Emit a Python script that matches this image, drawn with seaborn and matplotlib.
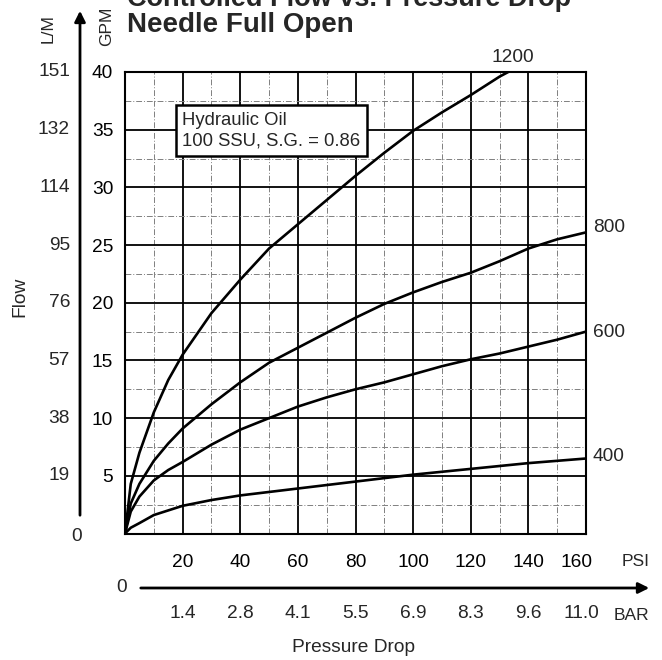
import numpy as np
import pandas as pd
import matplotlib
matplotlib.use("Agg")
import matplotlib.pyplot as plt
import matplotlib.transforms as mtransforms
import seaborn as sns

################################################
#                 Data
################################################
psi = [0, 2, 5, 10, 15, 20, 30, 40, 50, 60, 70, 80, 90, 100, 110, 120, 130, 140, 150, 160]
psi_1200 = [0, 2, 5, 10, 15, 20, 30, 40, 50, 60, 70, 80, 90, 100, 110, 120, 130, 133]

gpm_1200 = [0, 4.3, 7.0, 10.5, 13.3, 15.5, 19.1, 22.0, 24.7, 26.8, 28.9, 31.0, 33.0, 34.9, 36.5, 38.0, 39.6, 40.0]
gpm_800 = [0, 2.6, 4.3, 6.3, 7.8, 9.1, 11.2, 13.1, 14.8, 16.1, 17.4, 18.7, 19.9, 20.9, 21.8, 22.6, 23.6, 24.7, 25.5, 26.1]
gpm_600 = [0, 1.9, 3.2, 4.6, 5.5, 6.2, 7.7, 9.0, 10.0, 11.0, 11.8, 12.5, 13.1, 13.8, 14.5, 15.1, 15.6, 16.2, 16.8, 17.5]
gpm_400 = [0, 0.5, 0.9, 1.6, 2.0, 2.4, 2.9, 3.3, 3.6, 3.9, 4.2, 4.5, 4.8, 5.1, 5.35, 5.6, 5.85, 6.1, 6.3, 6.5]

psi_ticks = [0, 20, 40, 60, 80, 100, 120, 140, 160]
psi_labels = ["", "20", "40", "60", "80", "100", "120", "140", "160"]
bar_labels = ["1.4", "2.8", "4.1", "5.5", "6.9", "8.3", "9.6", "11.0"]
gpm_ticks = [0, 5, 10, 15, 20, 25, 30, 35, 40]
gpm_labels = ["", "5", "10", "15", "20", "25", "30", "35", "40"]
lm_labels = ["0", "19", "38", "57", "76", "95", "114", "132", "151"]

# curve names at the right end of each curve
curve_names = ["800", "600", "400"]
curve_label_y = [26.5, 17.4, 6.7]

df = pd.concat([
    pd.DataFrame({"psi": psi_1200, "gpm": gpm_1200, "ssu": "1200"}),
    pd.DataFrame({"psi": psi, "gpm": gpm_800, "ssu": "800"}),
    pd.DataFrame({"psi": psi, "gpm": gpm_600, "ssu": "600"}),
    pd.DataFrame({"psi": psi, "gpm": gpm_400, "ssu": "400"}),
])

################################################
#                 Figure
################################################
sns.set_style("white")
plt.rcParams["font.family"] = ["Liberation Sans", "DejaVu Sans"]
FS = 13.8

W, H = 662, 660
fig = plt.figure(figsize=(W / 100, H / 100), dpi=100)
x0, x1, ytop, ybot = 125, 586, 72, 533.5
ax = fig.add_axes([x0 / W, 1 - ybot / H, (x1 - x0) / W, (ybot - ytop) / H])

sns.lineplot(data=df, x="psi", y="gpm", units="ssu", estimator=None,
             color="black", lw=1.9, ax=ax, sort=False)

ax.set_xlim(0, 160)
ax.set_ylim(0, 40)
ax.set_xticks(psi_ticks)
ax.set_xticklabels(psi_labels, fontsize=FS)
ax.set_yticks(gpm_ticks)
ax.set_yticklabels(gpm_labels, fontsize=FS)
ax.set_xticks(np.arange(10, 160, 20), minor=True)
ax.set_yticks(np.arange(2.5, 40, 5), minor=True)
ax.tick_params(which="minor", length=0)
ax.tick_params(axis="y", which="major", length=7, width=1.2, pad=1.5, colors="black")
ax.tick_params(axis="x", which="major", length=8, width=1.2, pad=7, colors="black")
ax.grid(which="major", color="black", lw=1.3)
ax.grid(which="minor", color="0.5", lw=0.7, ls=(0, (6, 2, 1, 2)))
ax.set_axisbelow(True)
for s in ax.spines.values():
    s.set_visible(True)
    s.set_color("black")
    s.set_linewidth(1.5)
ax.set_xlabel("")
ax.set_ylabel("")

# the last PSI label sits a little left of its tick in the original
last = ax.get_xticklabels()[-1]
last.set_transform(last.get_transform() +
                   mtransforms.ScaledTranslation(-9 / 100, 0, fig.dpi_scale_trans))

# oil spec box
ax.text(19.8, 34.9, "Hydraulic Oil\n100 SSU, S.G. = 0.86", ha="left", va="center",
        fontsize=13.3, linespacing=1.3,
        bbox=dict(boxstyle="square,pad=0.35", fc="white", ec="black", lw=1.8))

# curve labels
ax.text(134.5, 40.5, "1200", ha="center", va="bottom", fontsize=FS, clip_on=False)
for name, yv in zip(curve_names, curve_label_y):
    ax.text(162.3, yv, name, ha="left", va="center", fontsize=FS, clip_on=False)

# title (top line cut off by the page edge)
fig.text(127 / W, 1 - 6 / H, "Controlled Flow vs. Pressure Drop", fontsize=19.5,
         weight="bold", va="baseline", ha="left")
fig.text(127 / W, 1 - 32 / H, "Needle Full Open", fontsize=20,
         weight="bold", va="baseline", ha="left")

# left side: L/M scale with arrow, GPM and Flow labels
ty = mtransforms.blended_transform_factory(fig.transFigure, ax.transData)
for v, lab in zip(gpm_ticks[1:], lm_labels[1:]):
    fig.text(70 / W, v, lab, ha="right", va="center", fontsize=FS, transform=ty)
fig.text(77 / W, -0.3, lm_labels[0], ha="center", va="center", fontsize=FS, transform=ty)
ax.annotate("", xy=(80, H - 8), xytext=(80, H - 518), xycoords="figure pixels",
            textcoords="figure pixels",
            arrowprops=dict(arrowstyle="-|>", lw=2, color="black", mutation_scale=16))
fig.text(48 / W, 1 - 29 / H, "L/M", rotation=90, ha="center", va="center", fontsize=12.5)
fig.text(107 / W, 1 - 26 / H, "GPM", rotation=90, ha="center", va="center", fontsize=12.5)
fig.text(20 / W, 1 - 297 / H, "Flow", rotation=90, ha="center", va="center", fontsize=FS)

# bottom: PSI unit, BAR scale with arrow, axis title
tx = mtransforms.blended_transform_factory(ax.transData, fig.transFigure)
fig.text(636 / W, 1 - 562 / H, "PSI", ha="center", va="center", fontsize=12.5)
fig.text(122 / W, 1 - 588 / H, "0", ha="center", va="center", fontsize=FS)
ax.annotate("", xy=(652, H - 588), xytext=(138, H - 588), xycoords="figure pixels",
            textcoords="figure pixels",
            arrowprops=dict(arrowstyle="-|>", lw=2, color="black", mutation_scale=16))
for v, lab in zip(psi_ticks[1:], bar_labels):
    dx = -1.5 if lab == "11.0" else 0
    fig.text(v + dx, 1 - 614 / H, lab, ha="center", va="center", fontsize=FS, transform=tx)
fig.text(631 / W, 1 - 616 / H, "BAR", ha="center", va="center", fontsize=12.5)
fig.text(354 / W, 1 - 648 / H, "Pressure Drop", ha="center", va="center", fontsize=FS)

fig.savefig("out.png", dpi=100, facecolor="white")
plt.close(fig)
